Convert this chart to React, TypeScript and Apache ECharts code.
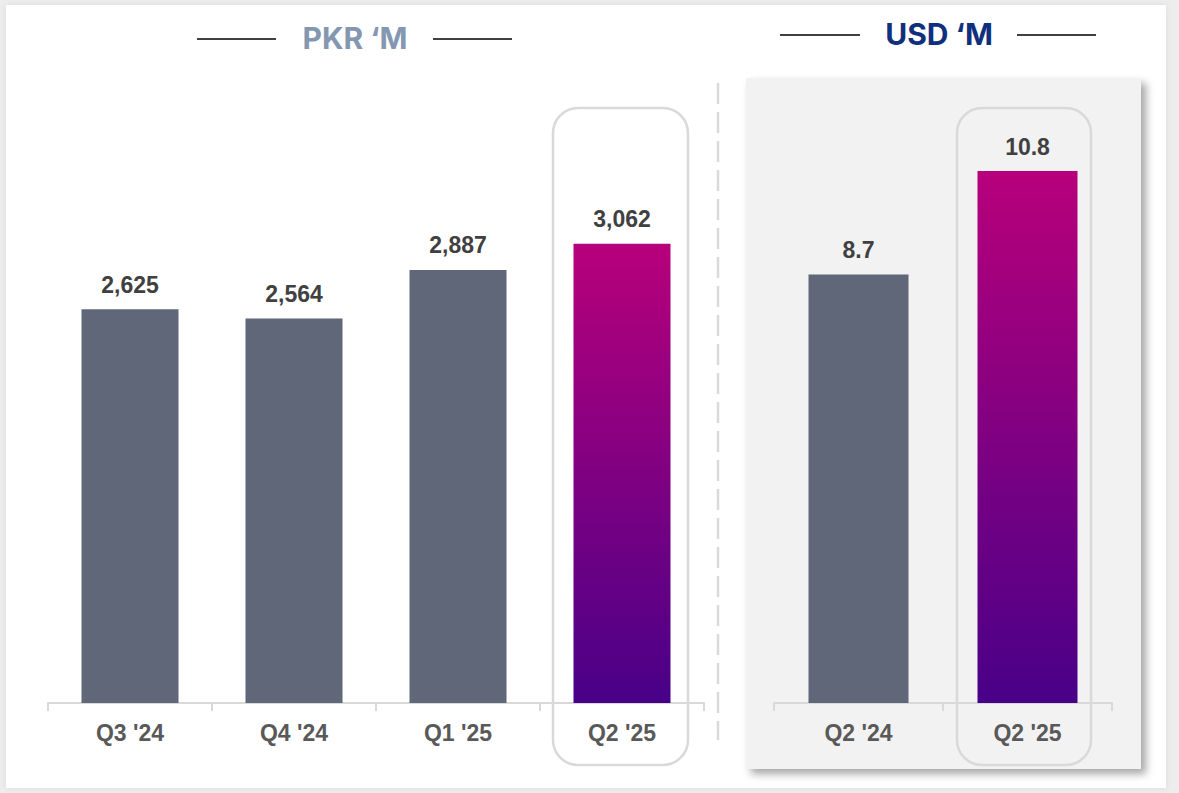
import React, { useEffect, useRef } from "react";
import * as echarts from "echarts";

const pkrCategories = ["Q3 '24", "Q4 '24", "Q1 '25", "Q2 '25"];
const pkrValues = [2625, 2564, 2887, 3062];
const usdCategories = ["Q2 '24", "Q2 '25"];
const usdValues = [8.7, 10.8];
const pkrTitle = "PKR \u2018M";
const usdTitle = "USD \u2018M";

const GREY_BAR = "#5f6779";
const LABEL_FONT = "'Liberation Sans', Arial, sans-serif";

function gradient() {
  return new echarts.graphic.LinearGradient(0, 0, 0, 1, [
    { offset: 0, color: "#b8007b" },
    { offset: 1, color: "#480088" },
  ]);
}

function buildData(values: number[]) {
  return values.map((v, i) => ({
    value: v,
    itemStyle: { color: i === values.length - 1 ? gradient() : GREY_BAR },
  }));
}

export default function App() {
  const ref = useRef<HTMLDivElement>(null);
  useEffect(() => {
    if (!ref.current) return;
    const chart = echarts.init(ref.current, undefined, { renderer: "svg" });
    const axisCommon = {
      type: "category" as const,
      axisLine: { lineStyle: { color: "#d9d9d9", width: 2 } },
      axisTick: { show: true, length: 8, lineStyle: { color: "#d9d9d9", width: 2 } },
      axisLabel: {
        color: "#595959",
        fontSize: 23,
        fontWeight: "bold" as const,
        fontFamily: LABEL_FONT,
        margin: 18,
      },
    };
    const labelCommon = {
      show: true,
      position: "top" as const,
      distance: 13,
      color: "#404040",
      fontSize: 23,
      fontWeight: "bold" as const,
      fontFamily: LABEL_FONT,
    };
    chart.setOption({
      animation: false,
      backgroundColor: "transparent",
      grid: [
        { left: 48, right: 1179 - 704, top: 103, bottom: 793 - 703 },
        { left: 774, right: 1179 - 1112, top: 112, bottom: 793 - 703 },
      ],
      xAxis: [
        { ...axisCommon, gridIndex: 0, data: pkrCategories },
        { ...axisCommon, gridIndex: 1, data: usdCategories },
      ],
      yAxis: [
        { type: "value", gridIndex: 0, min: 0, max: 4000, show: false },
        { type: "value", gridIndex: 1, min: 0, max: 12, show: false },
      ],
      series: [
        {
          type: "bar",
          xAxisIndex: 0,
          yAxisIndex: 0,
          barWidth: 97,
          data: buildData(pkrValues),
          label: {
            ...labelCommon,
            formatter: (p: any) => Number(p.value).toLocaleString("en-US"),
          },
        },
        {
          type: "bar",
          xAxisIndex: 1,
          yAxisIndex: 1,
          barWidth: 100,
          data: buildData(usdValues),
          label: {
            ...labelCommon,
            formatter: (p: any) => Number(p.value).toFixed(1),
          },
        },
      ],
      graphic: [
        {
          type: "text",
          x: 355,
          y: 38,
          style: {
            text: pkrTitle,
            fill: "#8497b0",
            font: "bold 30px Inter, 'Noto Sans', sans-serif",
            align: "center",
            verticalAlign: "middle",
          },
        },
        { type: "line", shape: { x1: 197, y1: 39, x2: 276, y2: 39 }, style: { stroke: "#000", lineWidth: 1.5 } },
        { type: "line", shape: { x1: 433, y1: 39, x2: 512, y2: 39 }, style: { stroke: "#000", lineWidth: 1.5 } },
        {
          type: "text",
          x: 939,
          y: 34,
          style: {
            text: usdTitle,
            fill: "#10307d",
            font: "bold 30px Inter, 'Noto Sans', sans-serif",
            align: "center",
            verticalAlign: "middle",
          },
        },
        { type: "line", shape: { x1: 780, y1: 35, x2: 860, y2: 35 }, style: { stroke: "#000", lineWidth: 1.5 } },
        { type: "line", shape: { x1: 1017, y1: 35, x2: 1096, y2: 35 }, style: { stroke: "#000", lineWidth: 1.5 } },
        {
          type: "line",
          shape: { x1: 718, y1: 83, x2: 718, y2: 740 },
          style: { stroke: "#d9d9d9", lineWidth: 2.5, lineDash: [21, 8] },
        },
        {
          type: "rect",
          shape: { x: 553, y: 108, width: 135, height: 657, r: 25 },
          style: { fill: "none", stroke: "#d9d9d9", lineWidth: 2.5 },
        },
        {
          type: "rect",
          shape: { x: 957, y: 108, width: 134, height: 657, r: 25 },
          style: { fill: "none", stroke: "#d9d9d9", lineWidth: 2.5 },
        },
      ],
    });
    return () => chart.dispose();
  }, []);

  return (
    <div style={{ position: "fixed", left: 0, top: 0, width: 1179, height: 793, background: "#ededed", overflow: "hidden" }}>
      <div
        style={{
          position: "absolute",
          left: 6,
          top: 5,
          width: 1160,
          height: 783,
          background: "#ffffff",
          boxShadow: "0 0 6px rgba(0,0,0,0.08)",
        }}
      />
      <div
        style={{
          position: "absolute",
          left: 746,
          top: 78,
          width: 395,
          height: 691,
          background: "#f2f2f2",
          boxShadow: "5px 5px 8px rgba(0,0,0,0.35)",
        }}
      />
      <div ref={ref} style={{ position: "absolute", left: 0, top: 0, width: 1179, height: 793 }} />
    </div>
  );
}
